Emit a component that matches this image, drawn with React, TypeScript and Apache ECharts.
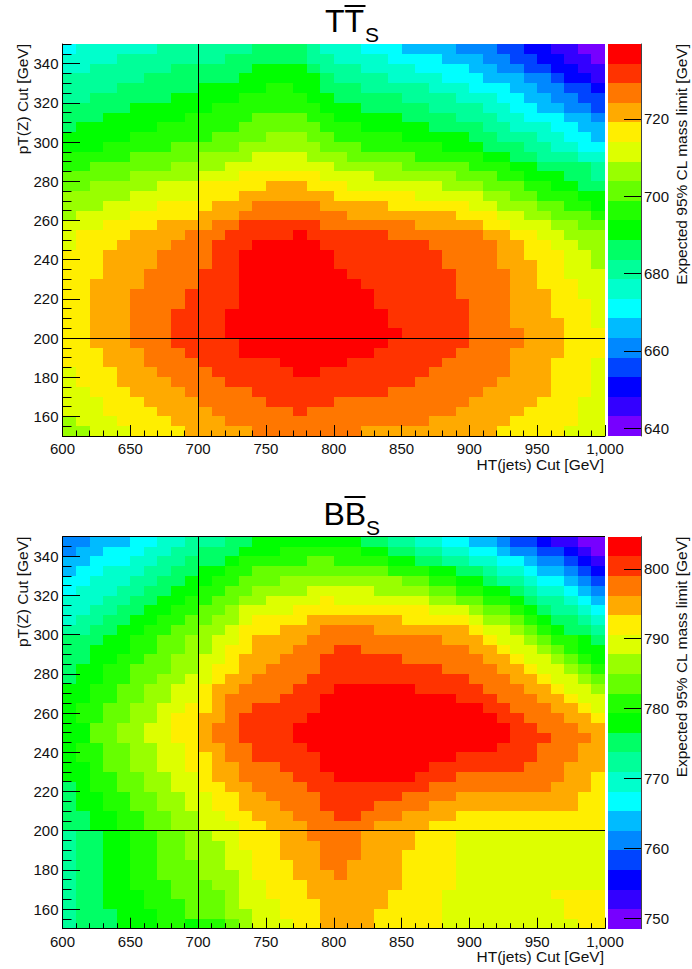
import React, { useEffect, useRef } from "react";
import * as echarts from "echarts";

// Colour bands, lowest to highest limit, keyed a..t in the cell tables below.
const BAND_KEYS = "abcdefghijklmnopqrst";
const PALETTE = [
  "#7700ff", "#3300ff", "#0000ff", "#0044ff", "#0088ff", "#00bbff", "#00ffff", "#00ffcc", "#00ff99", "#00ff66",
  "#00ff00", "#22ff00", "#66ff00", "#99ff00", "#ddff00", "#ffee00", "#ffaa00", "#ff7700", "#ff3300", "#ff0000",
];

const HT_BIN = 10;
const PT_BIN = 5;
const HT_TICKS = [600, 1000];
const PT_RANGE = [150, 350];
const PT_LABELS = [160, 180, 200, 220, 240, 260, 280, 300, 320, 340];
const CUT_HT = 700;
const CUT_PT = 200;

const TT_RANGE = [638, 739.4];
const TT_BAR_LABELS = [640, 660, 680, 700, 720];
const BB_RANGE = [748.5, 804.6];
const BB_BAR_LABELS = [750, 760, 770, 780, 790, 800];

// Each row runs from pT 350 (top) downwards; "g1 h7" = band g up to column 1, band h up to column 7, ...
const TT_ROWS = [
  "g1 h7 i14 j18 i19 h22 g25 f29 e32 d34 c36 b38 a40",
  "h4 i12 j18 i20 h24 g28 f31 e33 d35 c37 b39 a40",
  "h2 i8 j14 k18 j19 i22 h26 g30 f32 e34 d36 c38 b40",
  "i6 j13 k19 j20 i24 h28 g31 f34 e36 d37 c39 b40",
  "i4 j10 k15 l17 k19 j22 i27 h30 g33 f35 e37 d39 c40",
  "i2 j8 k13 l18 k20 j25 i29 h32 g34 f36 e38 d40",
  "j5 k11 l19 k22 j27 i31 h33 g35 f37 e39 d40",
  "j3 k9 l14 m18 l20 k25 j29 i32 h34 g37 f39 e40",
  "j1 k7 l13 m19 l22 k27 j31 i33 h36 g38 f40",
  "k5 l11 m15 n18 m20 l25 k30 j32 i35 h37 g39 f40",
  "k3 l8 m13 n19 m22 l28 k31 j34 i36 h38 g40",
  "l5 m10 n14 o18 n21 m26 l31 k33 j35 i38 h40",
  "l2 m8 n12 o20 n25 m30 l33 k35 j39 i40",
  "m5 n10 o13 p19 o23 n29 m32 l34 k37 j39 i40",
  "m2 n7 o10 p15 q18 p21 o28 n31 m34 l36 k38 j40",
  "n5 o10 p13 q20 p26 o31 n33 m35 l38 k40",
  "n3 o7 p11 q14 r19 q24 p30 o32 n35 m37 l39 k40",
  "n1 o5 p10 q13 r21 q29 p32 o34 n36 m39 l40",
  "o3 p7 q11 r13 s19 r26 q31 p33 o36 n38 m40",
  "o1 p5 q9 r12 s17 t18 s24 r31 q33 p35 o37 n40",
  "o1 p4 q8 r11 s14 t19 s27 r32 q34 p36 o38 n40",
  "p3 q7 r11 s13 t20 s28 r32 q34 p37 o39 n40",
  "p3 q7 r11 s13 t20 s28 r32 q35 p37 o39 n40",
  "p3 q6 r10 s13 t21 s29 r33 q35 p37 o40",
  "p2 q6 r10 s13 t22 s29 r33 q35 p38 o40",
  "p2 q5 r9 s13 t23 s29 r33 q36 p38 o40",
  "p2 q5 r9 s13 t23 s30 r33 q36 p39 o40",
  "p2 q5 r8 s12 t24 s30 r33 q36 p39 o40",
  "p2 q5 r8 s12 t24 s30 r33 q37 p39 o40",
  "p2 q5 r8 s12 t25 s30 r34 q37 p40",
  "p2 q5 r8 s13 t24 s30 r34 q37 p40",
  "p3 q6 r9 s13 t23 s29 r33 q37 p40",
  "p3 q6 r10 s16 t21 s28 r33 q36 p39 o40",
  "o1 p4 q7 r11 s17 t19 s27 r33 q36 p39 o40",
  "o1 p4 q8 r12 s26 r32 q36 p39 o40",
  "o2 p5 q9 r14 s24 r31 q36 p39 o40",
  "o3 p6 q10 r15 s20 r30 q35 p38 o40",
  "o3 p7 q11 r17 s18 r29 q34 p38 o40",
  "n1 o4 p8 q12 r27 q33 p38 o40",
  "n2 o5 p9 q14 r22 q32 p37 o40",
];

const BB_ROWS = [
  "e2 f5 g7 h9 i12 j14 k22 j24 i26 h28 g30 f32 e33 d35 c36 b38 a40",
  "e1 f3 g6 h8 i10 j13 k16 l22 k24 j26 i28 h30 g32 f33 e35 d37 c38 b39 a40",
  "f2 g5 h7 i9 j12 k13 l18 m20 l24 k26 j28 i30 h32 g34 f35 e37 d38 c39 b40",
  "f1 g3 h6 i8 j10 k12 l14 m24 l27 k29 j31 i32 h34 g35 f37 e38 d39 c40",
  "g2 h5 i7 j9 k11 l13 m16 n25 m27 l29 k31 j32 i34 h35 g37 f38 e39 d40",
  "g1 h4 i6 j8 k10 l12 m14 n18 o23 n27 m29 l31 k33 j34 i35 h37 g38 f39 e40",
  "h3 i5 j7 k9 l11 m13 n15 o19 p20 o27 n29 m31 l33 k34 j35 i37 h38 g39 f40",
  "h2 i4 j6 k8 l10 m12 n13 o17 p27 o30 n31 m33 l34 k35 j36 i38 h39 g40",
  "h1 i3 j5 k7 l9 m11 n13 o14 p18 q25 p30 o31 n33 m34 l35 k36 j38 i39 h40",
  "i2 j4 k6 l8 m10 n12 o13 p16 q19 r23 q30 p31 o33 n34 m35 l36 k37 j39 i40",
  "j3 k5 l7 m9 n11 o13 p14 q18 r28 q31 p32 o34 n35 m36 l38 k39 j40",
  "j2 k5 l7 m9 n11 o12 p14 q17 r20 s22 r30 q32 p33 o35 n36 m37 l38 k40",
  "j2 k4 l6 m8 n10 o12 p13 q16 r19 s25 r31 q33 p34 o36 n37 m38 l39 k40",
  "j1 k3 l5 m8 n10 o11 p13 q15 r19 s28 r32 q34 p35 o37 n38 m39 l40",
  "j1 k3 l5 m7 n9 o11 p12 q14 r18 s30 r33 q35 p36 o38 n39 m40",
  "k2 l4 m6 n8 o10 p11 q13 r17 s20 t26 s31 r34 q36 p37 o39 n40",
  "k2 l4 m6 n8 o10 p11 q12 r16 s19 t29 s32 r35 q37 p38 o40",
  "k1 l3 m5 n7 o9 p11 q12 r14 s19 t31 s33 r36 q38 p39 o40",
  "k1 l3 m5 n7 o8 p10 q12 r13 s18 t32 s34 r37 q39 p40",
  "k2 m4 n6 o8 p10 q11 r13 s17 t33 s35 r38 q40",
  "k2 m4 n6 o8 p10 q11 r13 s17 t33 s36 r39 q40",
  "k1 l3 m5 n7 o9 p10 q12 r14 s18 t32 s35 r38 q40",
  "k1 l3 m5 n7 o9 p11 q12 r14 s19 t29 s35 r38 q40",
  "k2 l3 m5 n7 o9 p11 q13 r16 s19 t27 s34 r37 q40",
  "k2 l4 m6 n8 o10 p11 q13 r17 s20 t26 s29 r37 q39 p40",
  "j1 k2 l4 m6 n8 o10 p12 q14 r18 s27 r36 q39 p40",
  "j1 k3 l5 m7 n9 o11 p13 q15 r19 s25 r29 q38 p40",
  "j1 k3 l5 m7 n9 o11 p13 q16 r19 s23 r27 q38 p40",
  "j2 k4 l6 m8 n10 o12 p14 q17 r20 s22 r25 q29 p40",
  "j2 k4 l6 m8 n10 o13 p15 q18 r23 q27 p40",
  "i1 j3 k5 l7 m9 n11 o13 p16 q18 r22 q26 p29 o40",
  "i1 j3 k5 l7 m9 n12 o13 p16 q19 r22 q26 p29 o40",
  "i1 j3 k5 l7 m9 n12 o14 p16 q19 r22 q25 p29 o40",
  "i1 j3 k5 l7 m10 n12 o14 p17 q19 r21 q25 p29 o40",
  "i1 j3 k5 l7 m10 n13 o14 p17 q20 r21 q25 p29 o40",
  "i1 j3 k5 l8 m11 n13 o15 p18 q25 p29 o40",
  "i1 j3 k6 l8 m12 n13 o15 p18 q24 p28 o36 p40",
  "i1 j3 k6 l9 m12 n13 o16 p19 q24 p28 o37 p40",
  "i1 j4 k7 l9 m12 n14 o16 p19 q23 p28 o37 p40",
  "i1 j4 k7 l9 k10 l12 m13 n14 o17 p19 q23 p28 o38 p40",
];

const FONT = '"Liberation Sans", Arial, sans-serif';
const TEXT = "#111";
const LABEL_SIZE = 15;
const NAME_SIZE = 15.5;

function cellsFrom(rows: string[], range: number[]) {
  const step = (range[1] - range[0]) / PALETTE.length;
  const out: number[][] = [];
  rows.forEach((row, r) => {
    let col = 0;
    row.split(" ").forEach((run) => {
      const band = BAND_KEYS.indexOf(run[0]);
      const end = Number(run.slice(1));
      for (; col < end; col++) {
        out.push([HT_TICKS[0] + col * HT_BIN, PT_RANGE[1] - (r + 1) * PT_BIN, range[0] + (band + 0.5) * step]);
      }
    });
  });
  return out;
}

function barFrom(range: number[]) {
  const step = (range[1] - range[0]) / PALETTE.length;
  return PALETTE.map((_, i) => [range[0] + i * step, range[0] + (i + 1) * step, range[0] + (i + 0.5) * step]);
}

const bandColor = (v: number, range: number[]) => {
  const step = (range[1] - range[0]) / PALETTE.length;
  return PALETTE[Math.max(0, Math.min(PALETTE.length - 1, Math.floor((v - range[0]) / step)))];
};

function buildOption() {
  const grid: any[] = [];
  const xAxis: any[] = [];
  const yAxis: any[] = [];
  const series: any[] = [];
  const graphic: any[] = [];

  const label = { fontFamily: FONT, fontSize: LABEL_SIZE, color: TEXT };
  const line = { lineStyle: { color: "#000", width: 1 } };

  const panel = (top: number, rows: string[], range: number[], barLabels: number[], topBorder: boolean) => {
    const g = grid.length;
    grid.push({ left: 62.5, top, width: 542.5, height: 392 });
    grid.push({ left: 608, top, width: 33, height: 392 });

    const x0 = xAxis.length;
    xAxis.push({
      type: "value", gridIndex: g, min: HT_TICKS[0], max: HT_TICKS[1], interval: 50, z: 10,
      axisLine: { show: true, onZero: false, ...line },
      axisTick: { show: true, inside: true, length: 11, ...line },
      minorTick: { show: true, splitNumber: 5, length: 5.5, ...line },
      splitLine: { show: false }, minorSplitLine: { show: false },
      axisLabel: { ...label, margin: 5, hideOverlap: false, showMinLabel: true, showMaxLabel: true },
    });
    xAxis.push({ type: "value", gridIndex: g + 1, min: 0, max: 1, show: false });

    const y0 = yAxis.length;
    yAxis.push({
      type: "value", gridIndex: g, position: "left", min: PT_RANGE[0], max: PT_RANGE[1], z: 10,
      axisLine: { show: true, onZero: false, ...line },
      axisTick: { show: true, inside: true, length: 17.5, customValues: PT_LABELS, ...line },
      splitLine: { show: false },
      axisLabel: { ...label, margin: 4, padding: [2, 0, 0, 0], customValues: PT_LABELS },
    });
    yAxis.push({
      type: "value", gridIndex: g, position: "left", min: PT_RANGE[0], max: PT_RANGE[1], interval: PT_BIN, z: 10,
      axisLine: { show: false },
      axisTick: { show: true, inside: true, length: 9, ...line },
      splitLine: { show: false }, axisLabel: { show: false },
    });
    yAxis.push({
      type: "value", gridIndex: g + 1, position: "right", min: range[0], max: range[1], z: 10,
      axisLine: { show: true, onZero: false, lineStyle: { color: "#444", width: 1 } },
      axisTick: { show: true, inside: true, length: 17, customValues: barLabels, ...line },
      splitLine: { show: false },
      axisLabel: { ...label, margin: 3, padding: [2, 0, 0, 0], customValues: barLabels },
    });

    series.push({
      type: "custom", xAxisIndex: x0, yAxisIndex: y0, data: cellsFrom(rows, range), progressive: 0, silent: true, z: 2,
      encode: { x: 0, y: 1 },
      renderItem: (_: any, api: any) => {
        const a = api.coord([api.value(0), api.value(1) + PT_BIN]);
        const b = api.coord([api.value(0) + HT_BIN, api.value(1)]);
        const x = Math.round(a[0]), y = Math.round(a[1]);
        return {
          type: "rect",
          shape: { x, y, width: Math.round(b[0]) - x, height: Math.round(b[1]) - y },
          style: { fill: bandColor(api.value(2), range) },
        };
      },
    });
    series.push({
      type: "custom", xAxisIndex: x0 + 1, yAxisIndex: y0 + 2, data: barFrom(range), progressive: 0, silent: true, z: 2,
      encode: { y: 0 },
      renderItem: (_: any, api: any) => {
        const a = api.coord([0, api.value(1)]);
        const b = api.coord([1, api.value(0)]);
        const x = Math.round(a[0]), y = Math.round(a[1]);
        return {
          type: "rect",
          shape: { x, y, width: Math.round(b[0]) - x, height: Math.round(b[1]) - y },
          style: { fill: bandColor(api.value(2), range) },
        };
      },
    });

    const overlays = [
      [CUT_HT, PT_RANGE[0], CUT_HT, PT_RANGE[1]],
      [HT_TICKS[0], CUT_PT, HT_TICKS[1], CUT_PT],
    ];
    if (topBorder) overlays.push([HT_TICKS[0], PT_RANGE[1], HT_TICKS[1], PT_RANGE[1]]);
    series.push({
      type: "custom", xAxisIndex: x0, yAxisIndex: y0, data: overlays, silent: true, z: 5,
      encode: { x: [0, 2], y: [1, 3] },
      renderItem: (_: any, api: any) => {
        const a = api.coord([api.value(0), api.value(1)]);
        const b = api.coord([api.value(2), api.value(3)]);
        const crisp = (v: number) => Math.floor(v) + 0.5;
        const vertical = api.value(0) === api.value(2);
        return {
          type: "line",
          shape: vertical
            ? { x1: crisp(a[0]), y1: a[1], x2: crisp(a[0]), y2: b[1] }
            : { x1: a[0], y1: crisp(a[1]), x2: b[0], y2: crisp(a[1]) },
          style: { stroke: "#000", lineWidth: 1, fill: null },
        };
      },
    });

    const txt = (text: string, x: number, y: number, align: string, rotation = 0) => ({
      type: "text", x, y, rotation, silent: true, z: 20,
      style: {
        text, fill: TEXT, fontFamily: FONT, fontSize: NAME_SIZE,
        align, textAlign: align, verticalAlign: "middle", textVerticalAlign: "middle",
      },
    });
    graphic.push(txt("HT(jets) Cut [GeV]", 604, top + 420, "right"));
    graphic.push(txt("pT(Z) Cut [GeV]", 22.5, top, "right", Math.PI / 2));
    graphic.push(txt("Expected 95% CL mass limit [GeV]", 681, top, "right", Math.PI / 2));
  };

  panel(44, TT_ROWS, TT_RANGE, TT_BAR_LABELS, false);
  panel(536.7, BB_ROWS, BB_RANGE, BB_BAR_LABELS, true);

  const title = (main: string, x: number, midY: number, barX: number, barY: number, subX: number, subY: number) => {
    graphic.push({
      type: "text", x, y: midY, silent: true, z: 20,
      style: { text: main, fill: "#000", fontFamily: FONT, fontSize: 32, align: "left", textAlign: "left", verticalAlign: "middle", textVerticalAlign: "middle" },
    });
    graphic.push({
      type: "line", silent: true, z: 20,
      shape: { x1: barX, y1: barY, x2: barX + 21, y2: barY },
      style: { stroke: "#000", lineWidth: 2 },
    });
    graphic.push({
      type: "text", x: subX, y: subY, silent: true, z: 20,
      style: { text: "S", fill: "#000", fontFamily: FONT, fontSize: 21, align: "left", textAlign: "left", verticalAlign: "middle", textVerticalAlign: "middle" },
    });
  };
  title("TT", 325, 20.5, 344.5, 6, 365, 34);
  title("BB", 323.5, 513.5, 344.5, 497, 366, 527.5);

  return { animation: false, backgroundColor: "#fff", grid, xAxis, yAxis, series, graphic };
}

export default function App() {
  const ref = useRef<HTMLDivElement>(null);
  useEffect(() => {
    const chart = echarts.init(ref.current!, undefined, { renderer: "svg" });
    chart.setOption(buildOption() as any);
    return () => chart.dispose();
  }, []);
  return <div ref={ref} style={{ position: "absolute", left: 0, top: 0, width: 692, height: 969 }} />;
}
